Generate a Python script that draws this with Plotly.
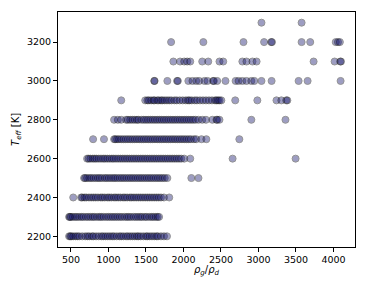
import plotly.graph_objects as go

# T_eff rows (K) and the rho_g/rho_d values read for each row
temps = [2200, 2300, 2400, 2500, 2600, 2700, 2800, 2900, 3000, 3100, 3200, 3300]

ratio_2200 = [475, 490, 505, 530, 560, 585, 610, 650, 690, 720, 745, 780, 800, 835, 870,
              905, 930, 960, 990, 1020, 1050, 1075, 1110, 1145, 1170, 1200, 1235, 1260,
              1290, 1320, 1350, 1380, 1400, 1430, 1465, 1500, 1520, 1550, 1580, 1610,
              1640, 1660, 1700, 1740, 1780]
ratio_2300 = [475, 485, 500, 525, 555, 580, 610, 640, 665, 700, 730, 760, 790, 815, 850,
              880, 905, 935, 970, 1000, 1030, 1060, 1090, 1120, 1150, 1180, 1215, 1245,
              1270, 1300, 1335, 1365, 1395, 1425, 1450, 1485, 1510, 1545, 1575, 1600,
              1630, 1655, 1675]
ratio_2400 = [530, 635, 650, 680, 705, 740, 770, 800, 830, 860, 895, 920, 950, 985, 1010,
              1040, 1075, 1100, 1130, 1160, 1195, 1220, 1250, 1285, 1310, 1340, 1370,
              1400, 1430, 1460, 1490, 1520, 1550, 1580, 1610, 1640, 1670, 1700, 1740, 1810]
ratio_2500 = [675, 690, 715, 745, 770, 800, 830, 860, 885, 915, 950, 975, 1005, 1035,
              1065, 1090, 1120, 1150, 1180, 1210, 1240, 1270, 1300, 1330, 1360, 1390,
              1420, 1450, 1480, 1510, 1540, 1570, 1600, 1630, 1660, 1690, 1720, 1750,
              1785, 2105, 2200]
ratio_2600 = [715, 735, 760, 790, 815, 840, 870, 900, 930, 955, 985, 1015, 1045, 1070,
              1100, 1130, 1160, 1190, 1220, 1250, 1280, 1310, 1340, 1370, 1400, 1430,
              1460, 1490, 1520, 1550, 1580, 1610, 1640, 1670, 1700, 1730, 1760, 1790,
              1820, 1850, 1880, 1910, 1940, 1970, 2010, 2090, 2655, 3495]
ratio_2700 = [795, 940, 1075, 1090, 1115, 1140, 1170, 1200, 1230, 1260, 1290, 1320,
              1350, 1380, 1410, 1440, 1470, 1500, 1530, 1560, 1590, 1620, 1650, 1680,
              1710, 1740, 1770, 1800, 1830, 1860, 1890, 1920, 1950, 1980, 2010, 2040,
              2070, 2100, 2140, 2170, 2240, 2305, 2745]
ratio_2800 = [1075, 1125, 1170, 1235, 1260, 1290, 1320, 1350, 1380, 1400, 1440, 1470,
              1500, 1530, 1560, 1590, 1620, 1650, 1680, 1710, 1740, 1770, 1800, 1830,
              1860, 1890, 1920, 1950, 1980, 2010, 2040, 2070, 2100, 2130, 2160, 2200,
              2250, 2300, 2385, 2440, 2450, 2480, 2905, 3360]
ratio_2900 = [1170, 1490, 1520, 1540, 1570, 1600, 1615, 1650, 1670, 1700, 1720, 1750,
              1780, 1810, 1840, 1880, 1910, 1950, 1990, 2030, 2060, 2080, 2110, 2150,
              2180, 2220, 2260, 2300, 2340, 2380, 2420, 2440, 2460, 2480, 2505, 2690,
              2985, 3240, 3305, 3370, 3385]
ratio_3000 = [1610, 1615, 1785, 1915, 1925, 2065, 2120, 2170, 2210, 2280, 2320, 2395,
              2405, 2450, 2560, 2695, 2735, 2785, 2840, 2905, 2945, 3040, 3175, 3535,
              3655, 4095]
ratio_3100 = [1865, 1955, 2010, 2050, 2090, 2250, 2330, 2480, 2530, 2785, 2840, 2920,
              2975, 3735, 4015, 4090, 4100]
ratio_3200 = [1835, 2265, 2800, 3075, 3170, 3180, 3575, 3690, 4030, 4060, 4085]
ratio_3300 = [3040, 3575]

rows = [ratio_2200, ratio_2300, ratio_2400, ratio_2500, ratio_2600, ratio_2700,
        ratio_2800, ratio_2900, ratio_3000, ratio_3100, ratio_3200, ratio_3300]

xs = []
ys = []
for t, r in zip(temps, rows):
    xs += r
    ys += [t] * len(r)

fig = go.Figure(go.Scatter(
    x=xs, y=ys, mode="markers",
    marker=dict(size=7, color="#191970", opacity=0.42,
                line=dict(color="black", width=1)),
))

axis = dict(showgrid=False, zeroline=False, showline=True, linecolor="black",
            linewidth=1, mirror=True, ticks="outside", ticklen=4,
            tickcolor="black", tickfont=dict(size=9.5, color="black"))

fig.update_xaxes(axis, range=[327, 4287], tickvals=[500, 1000, 1500, 2000, 2500, 3000, 3500, 4000])
fig.update_yaxes(axis, range=[2145, 3355], tickvals=[2200, 2400, 2600, 2800, 3000, 3200])

# axis titles placed as annotations so their position can be set exactly
fig.add_annotation(text="<i>ρ<sub>g</sub></i>/<i>ρ<sub>d</sub></i>", xref="paper", yref="paper",
                   x=0.5, y=-0.1, xanchor="center", yanchor="middle", showarrow=False,
                   font=dict(size=10, color="black"))
fig.add_annotation(text="<i>T<sub>eff</sub></i> [K]", xref="paper", yref="paper",
                   x=-0.14, y=0.5, xanchor="center", yanchor="middle", showarrow=False,
                   textangle=-90, font=dict(size=10, color="black"))

# the page body has an 8px margin, so the figure is 8px smaller and shifted
fig.update_layout(width=358, height=282, margin=dict(l=50, r=11, t=4, b=43),
                  plot_bgcolor="white", paper_bgcolor="white",
                  font=dict(family="DejaVu Sans"), showlegend=False)

fig.write_html("out.html")
